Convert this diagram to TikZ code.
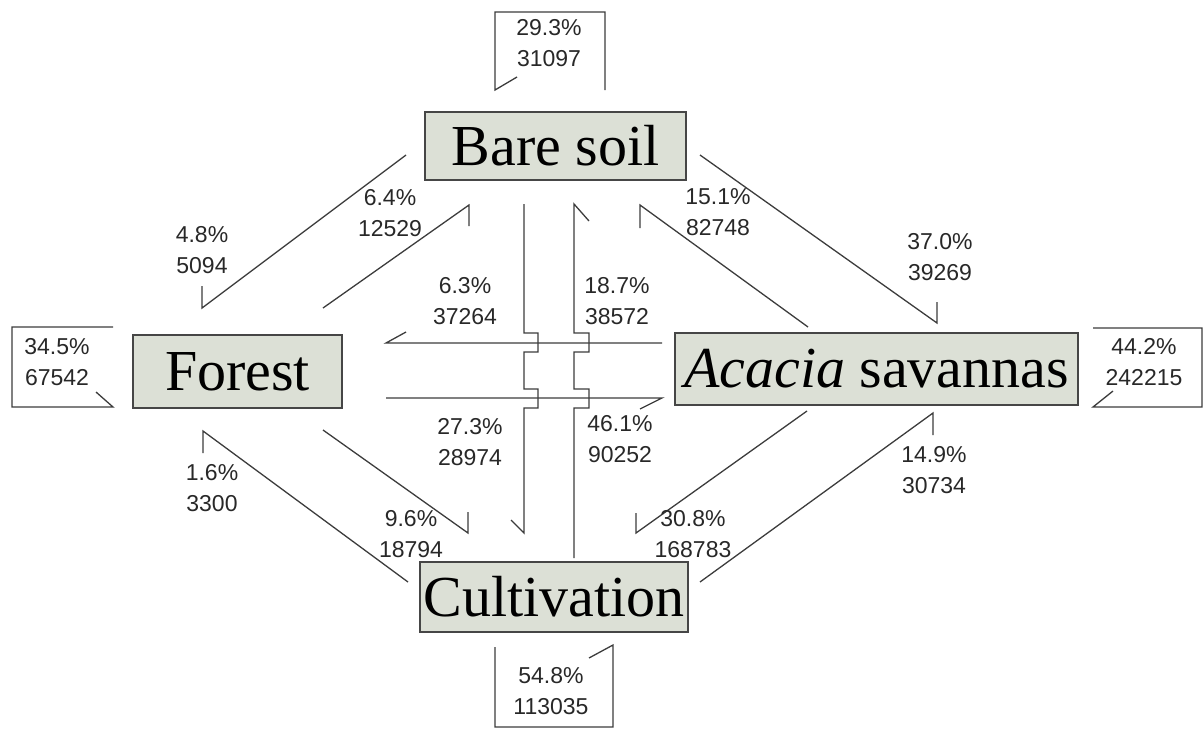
\documentclass[tikz,border=0pt]{standalone}
\usepackage{fontspec}
\setmainfont{Liberation Serif}
\newfontfamily\sharefont{Liberation Sans}
\usepackage{xcolor}
\usepackage{tikz}
\definecolor{boxfill}{RGB}{220,224,214}
\definecolor{boxline}{RGB}{70,70,70}
\definecolor{flowline}{RGB}{60,60,60}
\definecolor{sharetext}{RGB}{40,40,40}
\tikzset{
  landuse/.style={draw=boxline, line width=1.5pt, fill=boxfill, inner sep=0pt,
    font=\fontsize{58}{60}\selectfont},
  flow/.style={draw=flowline, line width=1.3pt},
  share/.style={align=center, text=sharetext, inner sep=0pt,
    font=\fontsize{23}{31}\selectfont\sharefont}
}

\begin{document}
\begin{tikzpicture}[x=1pt, y=-1pt]
    \useasboundingbox (0,0) rectangle (1204,729);
    % land use classes
    \node[landuse, minimum width=261pt, minimum height=68pt] (bare) at (555.5,146) {Bare soil};
    \node[landuse, minimum width=209pt, minimum height=73pt] (forest) at (237.5,371.5) {Forest};
    \node[landuse, minimum width=403pt, minimum height=72pt] (acacia) at (876.5,369) {\itshape Acacia\upshape{} savannas};
    \node[landuse, minimum width=268pt, minimum height=70pt] (cult) at (554,597) {Cultivation};
    % end points of the transitions
    \coordinate (bf1) at (406,155);  \coordinate (bf2) at (202,308);
    \coordinate (fb1) at (323,308);  \coordinate (fb2) at (469,205);
    \coordinate (ba1) at (700,155);  \coordinate (ba2) at (937,323);
    \coordinate (ab1) at (808,327);  \coordinate (ab2) at (640,205);
    \coordinate (fc1) at (323,430);  \coordinate (fc2) at (468,533);
    \coordinate (cf1) at (408,582);  \coordinate (cf2) at (203,431);
    \coordinate (ac1) at (807,411);  \coordinate (ac2) at (636,533);
    \coordinate (ca1) at (700,582);  \coordinate (ca2) at (933,413);
    \coordinate (bc1) at (524,204);  \coordinate (bc2) at (524,533);
    \coordinate (cb1) at (574,558);  \coordinate (cb2) at (574,204);
    \coordinate (af1) at (662,343);  \coordinate (af2) at (386,343);
    \coordinate (fa1) at (386,398);  \coordinate (fa2) at (662,398);
    % diagonal transitions
    \draw[flow] (bf1) -- (bf2) -- ++(0,-22);
    \draw[flow] (fb1) -- (fb2) -- ++(0,21);
    \draw[flow] (ba1) -- (ba2) -- ++(0,-21);
    \draw[flow] (ab1) -- (ab2) -- ++(0,23);
    \draw[flow] (fc1) -- (fc2) -- ++(0,-21);
    \draw[flow] (cf1) -- (cf2) -- ++(0,22);
    \draw[flow] (ac1) -- (ac2) -- ++(0,-20);
    \draw[flow] (ca1) -- (ca2) -- ++(0,22);
    % straight transitions with line jumps
    \draw[flow] (af1) -- (af2) -- ++(20,-11);
    \draw[flow] (fa1) -- (fa2) -- ++(-22,11);
    \draw[flow] (bc1) -- (524,333) -- ++(14,0) -- ++(0,19) -- ++(-14,0)
      -- (524,389) -- ++(14,0) -- ++(0,19) -- ++(-14,0) -- (bc2) -- ++(-13,-13);
    \draw[flow] (cb1) -- (574,408) -- ++(15,0) -- ++(0,-19) -- ++(-15,0)
      -- (574,352) -- ++(15,0) -- ++(0,-19) -- ++(-15,0) -- (cb2) -- ++(15,17);
    % persistence loops
    \draw[flow] (605,90) -- (605,12) -- (495,12) -- (495,90) -- ++(22,-13);
    \draw[flow] (113,327) -- (12,327) -- (12,407) -- (113,407) -- ++(-17,-15);
    \draw[flow] (1093,328) -- (1202,328) -- (1202,407) -- (1093,407) -- ++(20,-16);
    \draw[flow] (495,647) -- (495,727) -- (613,727) -- (613,645) -- ++(-24,13);
    % shares and areas
    \node[share] (lbb) at (549,43) {29.3\%\\31097};
    \node[share] (lff) at (57,362) {34.5\%\\67542};
    \node[share] (laa) at (1144,362) {44.2\%\\242215};
    \node[share] (lcc) at (551,691) {54.8\%\\113035};
    \node[share] (lbf) at (202,250) {4.8\%\\5094};
    \node[share] (lfb) at (390,213) {6.4\%\\12529};
    \node[share] (lba) at (940,257) {37.0\%\\39269};
    \node[share] (lab) at (718,212) {15.1\%\\82748};
    \node[share] (laf) at (465,301) {6.3\%\\37264};
    \node[share] (lcb) at (617,301) {18.7\%\\38572};
    \node[share] (lbc) at (470,442) {27.3\%\\28974};
    \node[share] (lfa) at (620,439) {46.1\%\\90252};
    \node[share] (lcf) at (212,488) {1.6\%\\3300};
    \node[share] (lfc) at (411,534) {9.6\%\\18794};
    \node[share] (lac) at (693,534) {30.8\%\\168783};
    \node[share] (lca) at (934,470) {14.9\%\\30734};
  \end{tikzpicture}
\end{document}
